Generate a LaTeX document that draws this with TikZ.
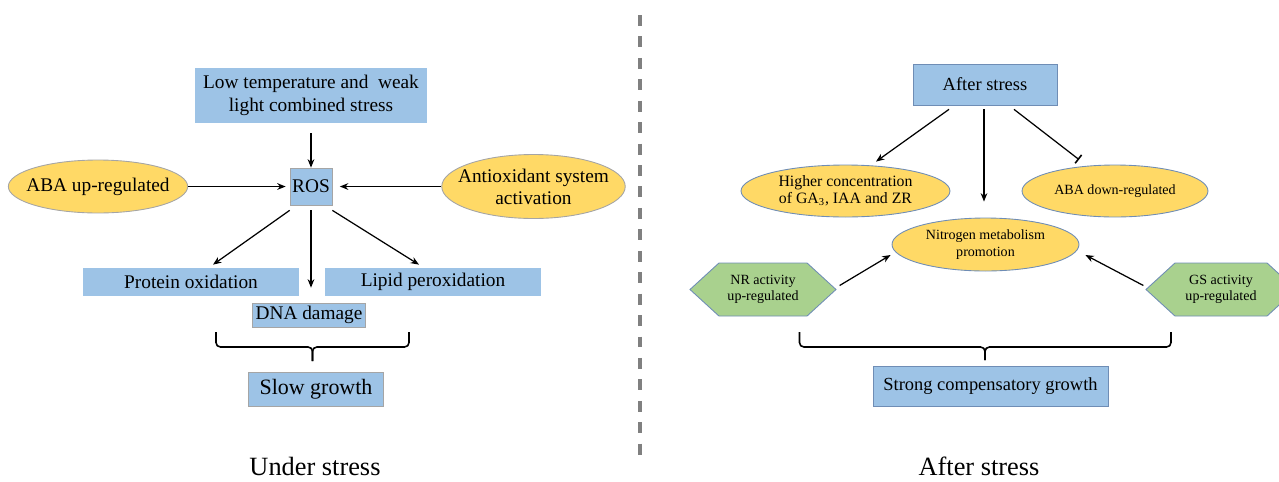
\documentclass[tikz,border=0pt]{standalone}
\usepackage{fontspec}
\setmainfont{Liberation Serif}
\usetikzlibrary{shapes.geometric,shapes.symbols,arrows.meta}
\definecolor{boxblue}{HTML}{9DC3E6}
\definecolor{grayedge}{HTML}{A5A5A5}
\definecolor{blueedge}{HTML}{6F8DB5}
\definecolor{ellyellow}{HTML}{FFD966}
\definecolor{hexgreen}{HTML}{A9D18E}
\definecolor{dashgray}{HTML}{808080}
\begin{document}
\begin{tikzpicture}[x=0.02cm,y=-0.02cm,
  bluebox/.style={fill=boxblue,inner sep=0pt,align=center},
  yellowell/.style={ellipse,fill=ellyellow,draw=#1,line width=0.5pt,inner sep=0pt,align=center},
  greenhex/.style={signal,signal to=west and east,signal pointer angle=85,fill=hexgreen,
    draw=blueedge,line width=0.5pt,inner sep=0pt,align=center,font=\fontsize{8}{9}\selectfont},
  arr/.style={line width=0.7pt,-{Stealth[length=4.8pt,width=3.8pt]}},
  bararr/.style={line width=0.7pt,-{Bar[width=6pt,line width=0.9pt]}},
  bracket/.style={line width=0.9pt,rounded corners=2.5pt},
  leftfont/.style={font=\fontsize{11}{13.5}\selectfont},
  caption/.style={inner sep=0pt,font=\fontsize{15}{17}\selectfont}]
\useasboundingbox (0,0) rectangle (1279,481);
% under stress
\node[bluebox,leftfont,minimum width=4.64cm,minimum height=1.1cm] (stress) at (311,95.5)
  {Low temperature and~ weak\\light combined stress};
\node[bluebox,leftfont,draw=grayedge,minimum width=0.84cm,minimum height=0.74cm] (ros) at (311,186.5) {ROS};
\node[yellowell=grayedge,leftfont,inner xsep=-4.7pt,minimum width=3.52cm,minimum height=1.06cm] (abaup) at (98,186.5) {ABA up-regulated};
\node[yellowell=grayedge,font=\fontsize{11}{12.5}\selectfont,inner xsep=-6pt,minimum width=3.62cm,minimum height=1.28cm] (antiox) at (533.5,186.5)
  {Antioxidant system\\activation};
\node[bluebox,leftfont,minimum width=4.32cm,minimum height=0.56cm] (prot) at (191,282) {Protein oxidation};
\node[bluebox,leftfont,minimum width=4.32cm,minimum height=0.56cm] (lipid) at (433,282) {Lipid peroxidation};
\node[bluebox,leftfont,draw=grayedge,minimum width=2.26cm,minimum height=0.48cm] (dna) at (309,315) {DNA damage};
\node[bluebox,draw=grayedge,font=\fontsize{12.5}{14}\selectfont,minimum width=2.7cm,minimum height=0.68cm] (slow) at (316,389) {Slow growth};
\node[caption] (under) at (315,466) {Under stress};

\draw[arr] ([shift={(0,10)}]stress.south) -- (ros.north);
\draw[arr] (abaup.east) -- ([shift={(-4,0)}]ros.west);
\draw[arr] (antiox.west) -- ([shift={(7.5,0)}]ros.east);
\draw[arr] ([shift={(0,5)}]ros.south west) -- ([shift={(22,-3)}]prot.north);
\draw[arr] ([shift={(0,5)}]ros.south) -- ([shift={(2,-15)}]dna.north);
\draw[arr] ([shift={(0,5)}]ros.south east) -- ([shift={(-14,-3)}]lipid.north);
\coordinate (lbrace-a) at (216,332);
\coordinate (lbrace-b) at (409,332);
\draw[bracket] (lbrace-a) -- ++(0,15) -- ++(96.5,0) -- ++(0,14);
\draw[bracket] (lbrace-b) -- ++(0,15) -- ++(-96.5,0) -- ++(0,14);

% separator
\draw[dashgray,line width=1.8pt,dash pattern=on 6.2pt off 6pt] (640,15) -- (640,458);

% after stress
\node[bluebox,draw=blueedge,font=\fontsize{10.5}{12}\selectfont,minimum width=2.88cm,minimum height=0.82cm] (after) at (985,84.5) {After stress};
\node[yellowell=blueedge,font=\fontsize{9}{9.6}\selectfont,minimum width=4.18cm,minimum height=1.04cm] (hormone) at (845.5,191)
  {Higher concentration\\of GA\textsubscript{3}, IAA and ZR};
\node[yellowell=blueedge,font=\fontsize{8}{9}\selectfont,minimum width=3.72cm,minimum height=1.04cm] (abadown) at (1115,191) {ABA down-regulated};
\node[yellowell=blueedge,font=\fontsize{8}{9.6}\selectfont,minimum width=3.74cm,minimum height=1.06cm] (nitro) at (985.5,244.5)
  {Nitrogen metabolism\\promotion};
\node[greenhex,minimum width=2.92cm,minimum height=1.06cm] (nr) at (763,289.5) {NR activity\\up-regulated};
\node[greenhex,minimum width=3.0cm,minimum height=1.06cm] (gs) at (1221,289.5) {GS activity\\up-regulated};
\node[bluebox,draw=blueedge,font=\fontsize{10.5}{12}\selectfont,minimum width=4.7cm,minimum height=0.8cm] (strong) at (990.5,386) {Strong compensatory growth};
\node[caption] (afterlbl) at (979,466) {After stress};

\draw[arr] ([shift={(-36,4)}]after.south) -- ([shift={(30.5,-3)}]hormone.north);
\draw[arr] ([shift={(-1,4)}]after.south) -- ([shift={(-1.5,-16)}]nitro.north);
\draw[bararr] ([shift={(29,4)}]after.south) -- ([shift={(-36,-5)}]abadown.north);
\draw[arr] ([shift={(3,-4)}]nr.east) -- ([shift={(-1,10.5)}]nitro.west);
\draw[arr] ([shift={(-2,-4)}]gs.west) -- ([shift={(6,10.5)}]nitro.east);
\coordinate (rbrace-a) at (799.5,332);
\coordinate (rbrace-b) at (1171,332);
\draw[bracket] (rbrace-a) -- ++(0,15) -- ++(185.5,0) -- ++(0,13);
\draw[bracket] (rbrace-b) -- ++(0,15) -- ++(-186,0) -- ++(0,13);
\end{tikzpicture}
\end{document}
